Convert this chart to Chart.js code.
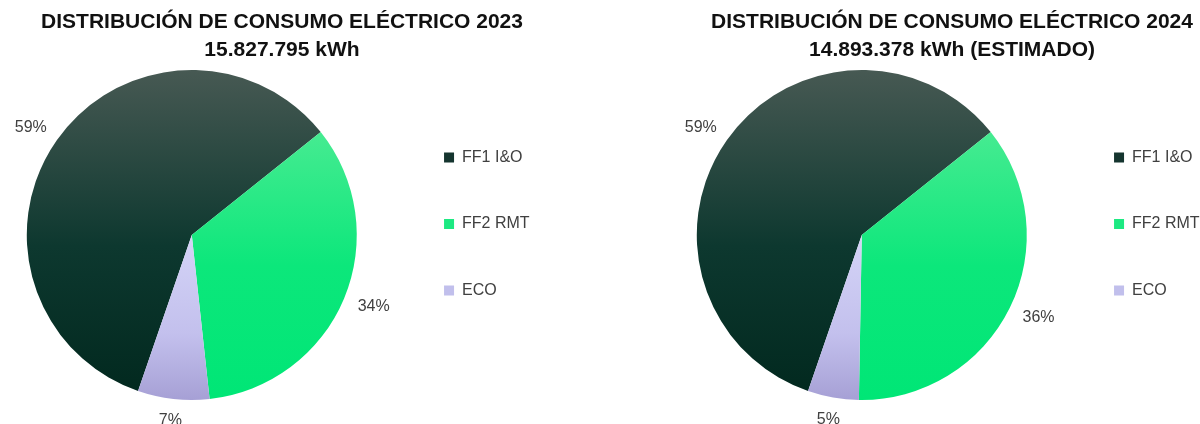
<!DOCTYPE html>
<html lang="es">
<head>
<meta charset="utf-8">
<title>Distribución de consumo eléctrico</title>
<script src="https://cdn.jsdelivr.net/npm/chart.js@4/dist/chart.umd.min.js"></script>
<style>
  html, body { margin: 0; padding: 0; background: #fff; }
  #page { position: relative; width: 1200px; height: 424px; overflow: hidden; }
  .pie { position: absolute; top: 0; }
</style>
</head>
<body>
<div id="page">
  <canvas id="pie2023" class="pie" width="584" height="424" style="left:-10px"></canvas>
  <canvas id="pie2024" class="pie" width="584" height="424" style="left:660px"></canvas>
</div>
<script>
// --- data (shares in %) ---
const categories = ["FF1 I&O", "FF2 RMT", "ECO"]
const share2023  = [59, 34, 7]
const share2024  = [59, 36, 5]
const title2023  = ["DISTRIBUCIÓN DE CONSUMO ELÉCTRICO 2023", "15.827.795 kWh"]
const title2024  = ["DISTRIBUCIÓN DE CONSUMO ELÉCTRICO 2024", "14.893.378 kWh (ESTIMADO)"]

// --- styling ---
const FONT = "'Liberation Sans', Arial, sans-serif"
const TEXT_COLOR = "#404040"
const ROTATION = -161 // first slice (FF1) start angle, degrees from 12 o'clock

// vertical gradient stops per slice (top -> bottom of the slice)
const sliceStops = [
  [[0, "#475953"], [0.55, "#0d382f"], [1, "#02291f"]],
  [[0, "#46eb91"], [0.5, "#0ce77b"], [1, "#00e676"]],
  [[0, "#d4d4f7"], [0.6, "#c3c0ed"], [1, "#a6a0d5"]],
]
const legendColors = ["#15352f", "#1de982", "#c1bfec"]

// Excel-like gradient: spans the bounding box of each slice
function sliceGradient(c) {
  const stops = sliceStops[c.dataIndex]
  const area = c.chart.chartArea
  if (!area) return stops[stops.length - 1][1]

  const values = c.dataset.data
  const total  = values.reduce((s, v) => s + v, 0)
  const cy = (area.top + area.bottom) / 2
  const r  = Math.min(area.right - area.left, area.bottom - area.top) / 2
  const TAU = Math.PI * 2

  let a0 = (ROTATION - 90) * Math.PI / 180
  for (let i = 0; i < c.dataIndex; i++) a0 += TAU * values[i] / total
  const a1 = a0 + TAU * values[c.dataIndex] / total

  const contains = (ang) => {
    let t = ang
    while (t < a0) t += TAU
    while (t - TAU >= a0) t -= TAU
    return t <= a1
  }
  let top    = Math.min(cy, cy + r * Math.sin(a0), cy + r * Math.sin(a1))
  let bottom = Math.max(cy, cy + r * Math.sin(a0), cy + r * Math.sin(a1))
  if (contains(-Math.PI / 2)) top = cy - r
  if (contains(Math.PI / 2)) bottom = cy + r

  const g = c.chart.ctx.createLinearGradient(0, top, 0, bottom)
  stops.forEach(([off, col]) => g.addColorStop(off, col))
  return g
}

// percentage labels just outside each slice ("outside end" in Excel)
const percentLabels = {
  id: "percentLabels",
  afterDatasetsDraw(chart) {
    const { ctx } = chart
    const meta   = chart.getDatasetMeta(0)
    const values = chart.data.datasets[0].data
    ctx.save()
    ctx.font = "16px " + FONT
    ctx.fillStyle = TEXT_COLOR
    ctx.textAlign = "center"
    ctx.textBaseline = "middle"
    meta.data.forEach((arc, i) => {
      const { x, y, startAngle, endAngle, outerRadius } =
        arc.getProps(["x", "y", "startAngle", "endAngle", "outerRadius"], true)
      const mid  = (startAngle + endAngle) / 2
      const text = values[i] + "%"
      const w = ctx.measureText(text).width
      const h = 12
      const gap = 16
      ctx.fillText(text,
        x + Math.cos(mid) * (outerRadius + gap + w / 2),
        y + Math.sin(mid) * (outerRadius + gap + h / 2))
    })
    ctx.restore()
  },
}

function buildPie(canvasId, shares, titleLines) {
  return new Chart(document.getElementById(canvasId), {
    type: "pie",
    data: {
      labels: categories,
      datasets: [{
        data: shares,
        backgroundColor: sliceGradient,
        borderWidth: 0,
      }],
    },
    plugins: [percentLabels],
    options: {
      responsive: false,
      animation: false,
      events: [],
      rotation: ROTATION,
      layout: { padding: { top: 0, right: 0, bottom: 24, left: 0 } },
      plugins: {
        title: {
          display: true,
          text: titleLines,
          color: "#111",
          font: { family: FONT, size: 21, weight: "bold", lineHeight: 1.31 },
          padding: { top: 8.5, bottom: 6.5 },
        },
        // empty box on the right: only reserves room so the legend sits where Excel put it
        subtitle: {
          display: true,
          position: "right",
          text: "",
          font: { size: 34.45, lineHeight: 1 },
          padding: 0,
        },
        legend: {
          position: "right",
          align: "start",
          fullSize: false,
          title: { display: true, text: "", font: { size: 29, lineHeight: 1 }, padding: 0 },
          labels: {
            boxWidth: 10,
            boxHeight: 10,
            padding: 50.5,
            color: TEXT_COLOR,
            font: { family: FONT, size: 16 },
            generateLabels(chart) {
              const items = Chart.overrides.doughnut.plugins.legend.labels.generateLabels(chart)
              items.forEach((item, i) => {
                item.fillStyle = legendColors[i]
                item.strokeStyle = legendColors[i]
                item.lineWidth = 0
              })
              return items
            },
          },
        },
        tooltip: { enabled: false },
      },
    },
  })
}

buildPie("pie2023", share2023, title2023)
buildPie("pie2024", share2024, title2024)
</script>
</body>
</html>
